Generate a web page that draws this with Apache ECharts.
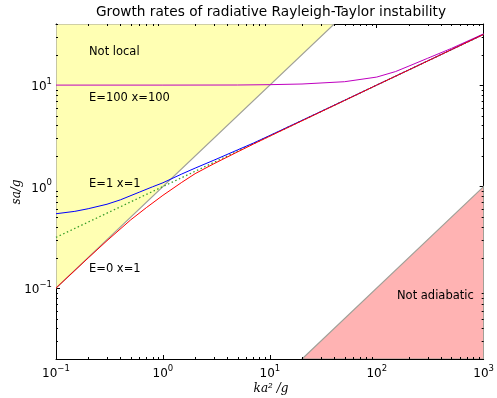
<!DOCTYPE html>
<html><head><meta charset="utf-8">
<script src="https://cdn.jsdelivr.net/npm/echarts@6/dist/echarts.min.js"></script>
<style>html,body{margin:0;padding:0;background:#fff}#c{width:497px;height:398px}</style>
</head><body><div id="c"></div>
<script>
// ---- data ----
const redX = [0.1,0.2,0.3,0.5,0.7,1,1.5,2,3,5,7,10,20,50,100,200,500,1000];
const redY = [0.1,0.198,0.293,0.47,0.62,0.82,1.1,1.34,1.68,2.2,2.62,3.14,4.45,7.05,10,14.12,22.35,31.6];
const blueX = [0.1,0.15,0.2,0.3,0.4,0.6,0.8,1,1.5,2,3,5,7,10,20,50,100,200,500,1000];
const blueY = [0.54,0.57,0.605,0.67,0.74,0.88,0.995,1.09,1.33,1.52,1.82,2.3,2.68,3.19,4.49,7.08,10.01,14.15,22.37,31.63];
const greenX = [0.1,1,10,100,1000];
const greenY = [0.316,1,3.16,10,31.6];
const magX = [0.1,1,5,10,20,50,100,150,200,300,500,700,1000];
const magY = [10,10,10.02,10.1,10.25,10.8,12,13.6,15.4,18.4,23,27,32];
const notLocalX = [0.1,40,0.1];
const notLocalY = [0.1,40,40];
const notAdiabX = [20,1000,1000];
const notAdiabY = [0.02,1,0.02];
const xRange = [0.1,1000];
const yRange = [0.02,40];
const annotations = [
  {text:'Not local', x:89, y:52},
  {text:'E=100 x=100', x:89, y:98.5},
  {text:'E=1 x=1', x:89, y:184},
  {text:'E=0 x=1', x:89, y:269},
  {text:'Not adiabatic', x:397, y:296.5}
];
const titleText = 'Growth rates of radiative Rayleigh-Taylor instability';

// ---- helpers ----
const zip = (a,b)=>a.map((v,i)=>[v,b[i]]);
function fmt(v){
  const e=Math.round(Math.log10(v));
  if(Math.abs(v/Math.pow(10,e)-1)>1e-6) return '';
  return '{b|10}{e|'+(e<0?'\u2212'+(-e):e)+'}';
}
const rich={b:{fontSize:12,fontFamily:'DejaVu Sans',color:'#000',lineHeight:16,verticalAlign:'bottom'},
            e:{fontSize:8.5,fontFamily:'DejaVu Sans',color:'#000',lineHeight:16,verticalAlign:'top'}};
const xMinor=[]; for(let d=-1;d<3;d++) for(let m=2;m<=9;m++) xMinor.push(m*Math.pow(10,d));
const yMinor=[]; for(let d=-2;d<2;d++) for(let m=2;m<=9;m++){const v=m*Math.pow(10,d); if(v>=yRange[0]-1e-9&&v<=yRange[1]+1e-9) yMinor.push(v);}
const tickStyle={stroke:'#000',lineWidth:1};

function polySeries(xs,ys,fill){
  return {type:'custom',coordinateSystem:'cartesian2d',data:[[xs[0],ys[0]]],clip:true,z:1,silent:true,
    renderItem:(p,api)=>({type:'polygon',shape:{points:xs.map((x,i)=>api.coord([x,ys[i]]))},
      style:{fill:fill,stroke:'#a0a098',lineWidth:1.2}})};
}
function lineSeries(xs,ys,color,type,w){
  return {type:'line',data:zip(xs,ys),showSymbol:false,symbol:'none',smooth:false,z:3,silent:true,
    lineStyle:{color:color,width:w||1,type:type||'solid'}};
}

const chart=echarts.init(document.getElementById('c'),null,{renderer:'canvas'});
const axisCommon={type:'log',logBase:10,axisLine:{show:true,lineStyle:{color:'#000',width:1}},
  axisTick:{show:true,inside:true,length:4,lineStyle:{color:'#000'}},splitLine:{show:false},minorTick:{show:false}};
chart.setOption({
  animation:false,
  backgroundColor:'#fff',
  grid:{left:56,right:11,top:24,bottom:39,containLabel:false},
  xAxis:[
    Object.assign({},axisCommon,{position:'bottom',min:xRange[0],max:xRange[1],
      axisLabel:{formatter:fmt,rich:rich,margin:5,showMinLabel:true,showMaxLabel:true,hideOverlap:false}}),
    Object.assign({},axisCommon,{position:'top',min:xRange[0],max:xRange[1],axisLabel:{show:false}})
  ],
  yAxis:[
    Object.assign({},axisCommon,{position:'left',min:yRange[0],max:yRange[1],
      axisLabel:{formatter:fmt,rich:rich,margin:4,hideOverlap:false}}),
    Object.assign({},axisCommon,{position:'right',min:yRange[0],max:yRange[1],axisLabel:{show:false}})
  ],
  series:[
    polySeries(notLocalX,notLocalY,'#ffffb3'),
    polySeries(notAdiabX,notAdiabY,'#ffb3b3'),
    lineSeries(greenX,greenY,'#3a9e2a',[1.5,2.5],1.3),
    lineSeries(magX,magY,'#bf00bf'),
    lineSeries(blueX,blueY,'#0000ff'),
    lineSeries(redX,redY,'#ff0000'),
    {type:'custom',coordinateSystem:'cartesian2d',data:xMinor.map(v=>[v,1]),clip:false,z:5,silent:true,
      renderItem:(p,api)=>{const cs=p.coordSys;const x=Math.round(api.coord([api.value(0),1])[0])+0.5;
        return {type:'group',children:[
          {type:'line',shape:{x1:x,y1:cs.y+cs.height,x2:x,y2:cs.y+cs.height-2},style:tickStyle},
          {type:'line',shape:{x1:x,y1:cs.y,x2:x,y2:cs.y+2},style:tickStyle}]};}},
    {type:'custom',coordinateSystem:'cartesian2d',data:yMinor.map(v=>[1,v]),clip:false,z:5,silent:true,
      renderItem:(p,api)=>{const cs=p.coordSys;const y=Math.round(api.coord([1,api.value(1)])[1])+0.5;
        return {type:'group',children:[
          {type:'line',shape:{x1:cs.x,y1:y,x2:cs.x+2,y2:y},style:tickStyle},
          {type:'line',shape:{x1:cs.x+cs.width,y1:y,x2:cs.x+cs.width-2,y2:y},style:tickStyle}]};}}
  ],
  graphic:[
    {type:'text',x:271,y:12,z:10,style:{text:titleText,font:'13.7px "DejaVu Sans"',fill:'#000',align:'center',verticalAlign:'middle'}},
    {type:'text',x:16.5,y:192,rotation:Math.PI/2,z:10,style:{text:'sa/g',font:'italic 12px "DejaVu Serif"',fill:'#000',align:'center',verticalAlign:'middle'}},
    {type:'text',x:271,y:389,z:10,style:{text:'ka\u00b2 /g',font:'italic 12px "DejaVu Serif"',fill:'#000',align:'center',verticalAlign:'middle'}}
  ].concat(annotations.map(a=>({type:'text',x:a.x,y:a.y,z:10,
    style:{text:a.text,font:'11.5px "DejaVu Sans"',fill:'#000',align:'left',verticalAlign:'middle'}})))
});
</script></body></html>
